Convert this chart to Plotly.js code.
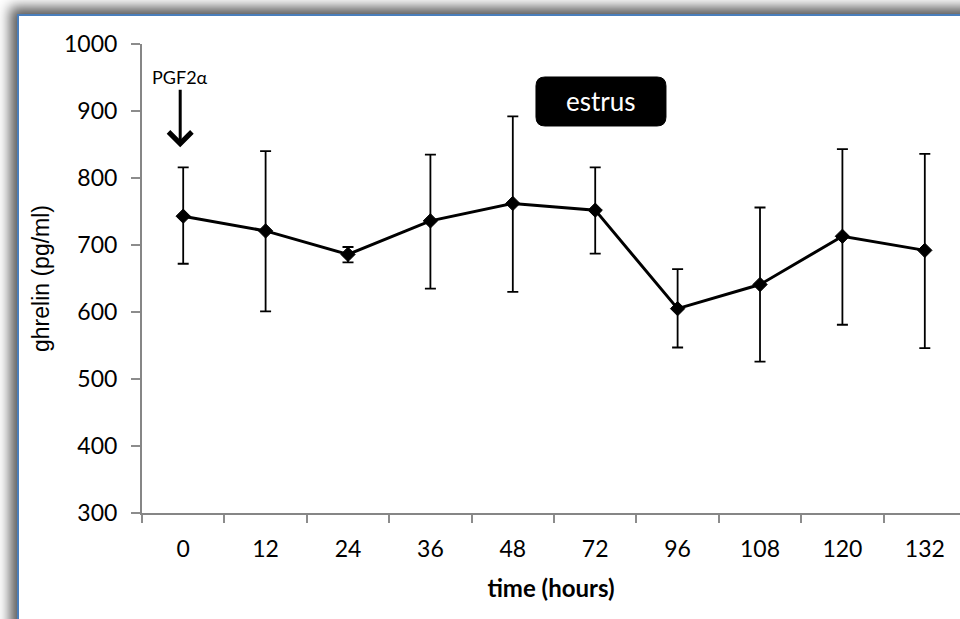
<!DOCTYPE html>
<html>
<head>
<meta charset="utf-8">
<script src="https://cdn.plot.ly/plotly-3.0.1.min.js"></script>
<style>
  html, body { margin:0; padding:0; background:#fff; overflow:hidden; }
  #wrap { position:absolute; left:0; top:0; width:960px; height:619px; overflow:hidden; background:#fff; }
  #sheet { position:absolute; left:17px; top:14px; width:980px; height:640px; background:#fff;
           border-left:2px solid #4a7ebb; border-top:2px solid #4a7ebb;
           box-shadow:-4px -4px 12px 3px rgba(0,0,0,0.65); }
  #chart { position:absolute; left:0; top:0; width:960px; height:619px; }
</style>
</head>
<body>
<div id="wrap">
  <div id="sheet"></div>
  <div id="chart"></div>
</div>
<script>
// time points (hours)
var timeLabels = ['0', '12', '24', '36', '48', '72', '96', '108', '120', '132'];
// mean ghrelin (pg/ml)
var ghrelin = [743, 721, 686, 736, 762, 752, 605, 641, 713, 692];
// error bar extents above and below the mean
var errUp   = [73, 119, 11, 99, 130, 64, 59, 115, 130, 144];
var errDown = [71, 120, 12, 101, 132, 65, 58, 115, 132, 146];

var trace = {
  type: 'scatter',
  mode: 'lines+markers',
  x: timeLabels,
  y: ghrelin,
  line: { color: '#000', width: 3 },
  marker: { symbol: 'diamond', size: 11, color: '#000', line: { color: '#000', width: 1 } },
  error_y: {
    type: 'data', symmetric: false,
    array: errUp, arrayminus: errDown,
    color: '#000', thickness: 1.8, width: 5.5
  },
  hoverinfo: 'skip'
};

var axisGray = '#868686';

var layout = {
  width: 960, height: 619,
  margin: { l: 142, r: 0, t: 44, b: 106, pad: 0 },
  paper_bgcolor: 'rgba(0,0,0,0)',
  plot_bgcolor: 'rgba(0,0,0,0)',
  showlegend: false,
  font: { family: 'Lato', color: '#000' },
  xaxis: {
    type: 'category',
    range: [-0.5, 9.427],
    tickson: 'boundaries',
    ticks: 'outside', ticklen: 8, tickwidth: 2, tickcolor: '#8c8c8c',
    showline: true, linecolor: axisGray, linewidth: 2,
    showgrid: false, zeroline: false,
    tickfont: { family: 'Lato', size: 23, color: '#000' },
    ticklabelstandoff: 14,
    title: { text: '<b>time (hours)</b>', font: { family: 'Lato', size: 24, color: '#000' }, standoff: 20 }
  },
  yaxis: {
    range: [300, 1000], dtick: 100,
    ticks: 'outside', ticklen: 9, tickwidth: 2, tickcolor: '#8c8c8c',
    showline: true, linecolor: axisGray, linewidth: 2,
    showgrid: false, zeroline: false,
    tickfont: { family: 'Lato', size: 23, color: '#000' },
    ticklabelstandoff: 9,
    title: { text: 'ghrelin (pg/ml)', font: { family: 'Liberation Sans', size: 23, color: '#000' }, standoff: 8 }
  },
  shapes: [{
    type: 'path',
    xref: 'paper', yref: 'paper',
    xsizemode: 'pixel', ysizemode: 'pixel',
    xanchor: 0.5611, yanchor: 0.8774,
    path: 'M -56,24.5 L 56,24.5 Q 65,24.5 65,15.5 L 65,-15.5 Q 65,-24.5 56,-24.5 L -56,-24.5 Q -65,-24.5 -65,-15.5 L -65,15.5 Q -65,24.5 -56,24.5 Z',
    fillcolor: '#000', line: { color: '#000', width: 1 }
  }],
  annotations: [
    {
      x: '0', y: 846, xref: 'x', yref: 'y',
      text: 'PGF2α', font: { family: 'Lato', size: 18, color: '#000' },
      showarrow: true, arrowhead: 4, arrowsize: 1.5, arrowwidth: 3, arrowcolor: '#000',
      ax: 0, ay: -70, standoff: 0, xshift: -3
    },
    {
      x: 0.5611, y: 0.8774, xref: 'paper', yref: 'paper',
      text: 'estrus', font: { family: 'Lato', size: 26, color: '#fff' },
      showarrow: false, xanchor: 'center', yanchor: 'middle'
    }
  ]
};

Plotly.newPlot('chart', [trace], layout, { displayModeBar: false, staticPlot: true });
</script>
</body>
</html>
